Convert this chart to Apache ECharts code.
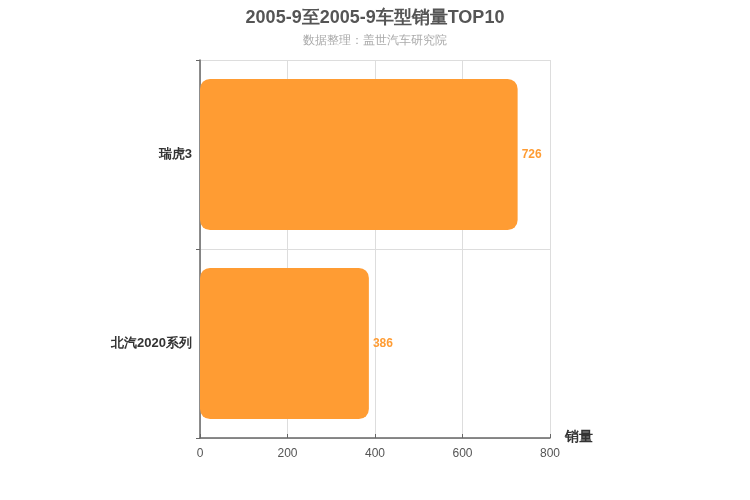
<!DOCTYPE html>
<html>
<head>
<meta charset="utf-8">
<script src="https://cdn.jsdelivr.net/npm/echarts@6/dist/echarts.min.js"></script>
<style>
  html, body { margin: 0; padding: 0; background: #fff; }
  #chart { width: 750px; height: 500px; }
</style>
</head>
<body>
<div id="chart"></div>
<script>
const models = ['瑞虎3', '北汽2020系列'];
const sales = [726, 386];
const xTicks = [0, 200, 400, 600, 800];

const chartDom = document.getElementById('chart');
const myChart = echarts.init(chartDom);

const option = {
  animation: false,
  title: {
    text: '2005-9至2005-9车型销量TOP10',
    subtext: '数据整理：盖世汽车研究院',
    left: 'center',
    top: 4,
    itemGap: 8,
    textStyle: { fontSize: 18, fontWeight: 'bold', color: '#555', fontFamily: 'sans-serif' },
    subtextStyle: { fontSize: 12, color: '#aaa' }
  },
  grid: { left: 200, right: 200, top: 60, bottom: 62 },
  xAxis: {
    type: 'value',
    min: xTicks[0],
    max: xTicks[xTicks.length - 1],
    interval: 200,
    name: '销量',
    nameLocation: 'end',
    nameGap: 15,
    nameTextStyle: { fontSize: 14, fontWeight: 'bold', color: '#333', verticalAlign: 'top', padding: [-8, 0, 0, 0] },
    axisLine: { show: true, lineStyle: { color: '#666', width: 1.5 } },
    axisTick: { show: true, inside: true, length: 4, lineStyle: { color: '#666' } },
    axisLabel: { color: '#555', fontSize: 12, margin: 10 },
    splitLine: { show: true, lineStyle: { color: '#ddd' } }
  },
  yAxis: {
    type: 'category',
    inverse: true,
    data: models,
    axisLine: { show: true, lineStyle: { color: '#666', width: 1.5 } },
    axisTick: { show: true, length: 4, lineStyle: { color: '#666' } },
    axisLabel: { color: '#333', fontSize: 13, fontWeight: 'bold', margin: 8, padding: [4, 0, 0, 0] },
    splitLine: { show: true, lineStyle: { color: '#ddd' } }
  },
  series: [
    {
      type: 'bar',
      data: sales,
      barWidth: '80%',
      itemStyle: { color: '#ff9c33', borderRadius: 10 },
      label: {
        show: true,
        position: 'right',
        color: '#ff9c33',
        fontWeight: 'bold',
        fontSize: 12,
        distance: 4,
        padding: [4, 0, 0, 0]
      }
    }
  ]
};

myChart.setOption(option);
</script>
</body>
</html>
